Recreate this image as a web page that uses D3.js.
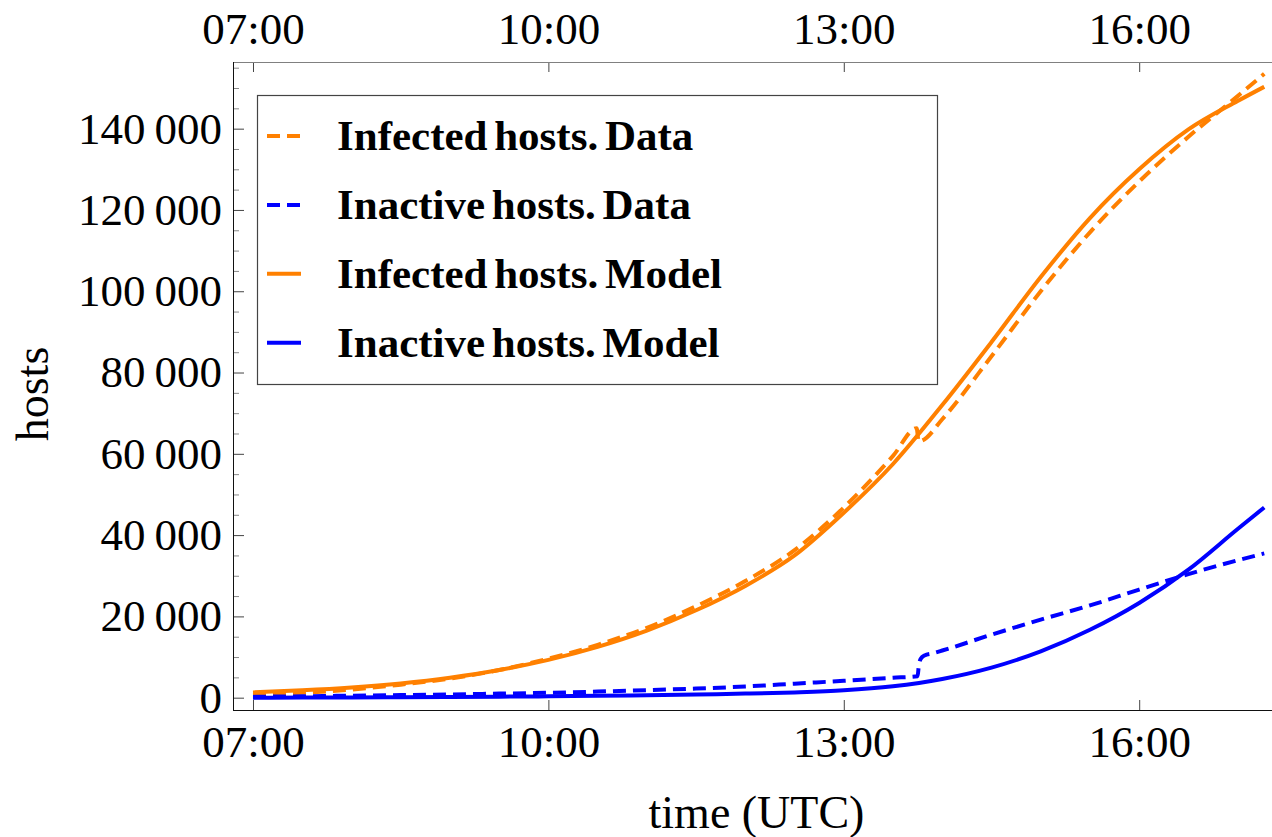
<!DOCTYPE html>
<html>
<head>
<meta charset="utf-8">
<script src="https://cdn.jsdelivr.net/npm/d3@7"></script>
<style>
  body { margin: 0; background: #fff; }
  svg text { font-family: "Liberation Serif", "Times New Roman", serif; fill: #000; }
</style>
</head>
<body>
<div class="chart"></div>
<script>
// hours (UTC) for the model curves
const modelHours = [7, 7.5, 8, 8.5, 9, 9.5, 10, 10.5, 11, 11.5, 12, 12.5, 13, 13.5,
                    14, 14.5, 15, 15.5, 16, 16.5, 17, 17.27];
const infectedModel = [1300, 1800, 2500, 3500, 4900, 6800, 9300, 12500, 16500, 21500, 27500,
                       35000, 45500, 57500, 72000, 87500, 103500, 118000, 130000, 139800, 146800, 150300];
const inactiveModel = [0, 30, 60, 110, 170, 250, 340, 460, 600, 780, 1000,
                       1300, 1800, 2800, 4600, 7400, 11400, 16700, 23300, 31500, 41500, 46800];

// data series have a step near 13:45, so they carry their own hours
const infectedDataHours = [7, 7.5, 8, 8.5, 9, 9.5, 10, 10.5, 11, 11.5, 12, 12.5, 13, 13.5,
                           13.74, 13.76, 13.8, 14, 14.5, 15, 15.5, 16, 16.5, 17, 17.27];
const infectedData = [700, 1200, 2000, 3200, 4700, 6800, 9600, 13000, 17200, 22500, 28700,
                      36300, 46800, 59500, 66300, 63000, 63300, 68500, 84000, 100000, 114500,
                      127000, 138000, 148000, 153500];
const inactiveDataHours = [7, 7.5, 8, 8.5, 9, 9.5, 10, 10.5, 11, 11.5, 12, 12.5, 13, 13.5,
                           13.75, 13.76, 13.78, 13.82, 13.9, 14, 14.5, 15, 15.5, 16, 16.5, 17, 17.27];
const inactiveData = [200, 350, 500, 650, 800, 1000, 1200, 1500, 1850, 2250, 2750, 3450, 4150, 4900,
                      5300, 7500, 9500, 10400, 10900, 11600, 15500, 19200, 22700, 26600, 30400, 33800, 35500];

const hourTicks = [7, 10, 13, 16];
const hostTicks = [0, 20000, 40000, 60000, 80000, 100000, 120000, 140000];

const legendLabels = ["Infected hosts. Data", "Inactive hosts. Data",
                      "Infected hosts. Model", "Inactive hosts. Model"];

const orange = "#ff8000", blue = "#0000ff";

const width = 1272, height = 837;
const frame = { left: 233, right: 1280, top: 62, bottom: 710 };

const svg = d3.select("div.chart")
    .append("svg")
    .attr("width", width)
    .attr("height", height);

const x = d3.scaleLinear().domain([6.797, 17.43]).range([frame.left, frame.right]);
const y = d3.scaleLinear().domain([-3030, 156400]).range([frame.bottom, frame.top]);

const hourFmt = h => d3.format("02")(h) + ":00";
const hostFmt = v => d3.format(",")(v).replace(",", "\u2009");

// axes, ticks pointing into the frame
const styleAxis = (g) => {
    g.select(".domain").remove();
    g.selectAll(".tick line").attr("stroke", "#444");
    g.selectAll(".tick text").attr("font-size", 45).attr("font-family", "Liberation Serif, serif");
};

svg.append("g")
    .attr("transform", `translate(0, ${frame.bottom})`)
    .call(d3.axisBottom(x).tickValues(hourTicks).tickFormat(hourFmt).tickSize(-10).tickPadding(15))
    .call(styleAxis)
    .selectAll(".tick text").attr("dy", "0.71em");

svg.append("g")
    .attr("transform", `translate(0, ${frame.top})`)
    .call(d3.axisTop(x).tickValues(hourTicks).tickFormat(hourFmt).tickSize(-10).tickPadding(18))
    .call(styleAxis);

// minor y ticks
svg.append("g")
    .attr("transform", `translate(${frame.left}, 0)`)
    .call(d3.axisLeft(y).tickValues(d3.range(0, 156000, 5000).filter(v => v % 20000 !== 0))
        .tickFormat("").tickSize(-6))
    .call(g => g.select(".domain").remove())
    .selectAll(".tick line").attr("stroke", "#888");

svg.append("g")
    .attr("transform", `translate(${frame.left}, 0)`)
    .call(d3.axisLeft(y).tickValues(hostTicks).tickFormat(hostFmt).tickSize(-11).tickPadding(11))
    .call(styleAxis);

// frame
svg.append("line").attr("x1", frame.left).attr("x2", frame.right)
    .attr("y1", frame.top + 0.5).attr("y2", frame.top + 0.5).attr("stroke", "#808080");
svg.append("line").attr("x1", frame.left).attr("x2", frame.right)
    .attr("y1", frame.bottom + 0.5).attr("y2", frame.bottom + 0.5).attr("stroke", "#111");
svg.append("line").attr("x1", frame.left + 0.5).attr("x2", frame.left + 0.5)
    .attr("y1", frame.top).attr("y2", frame.bottom + 1).attr("stroke", "#111");

// axis titles
svg.append("text")
    .attr("x", (frame.left + frame.right) / 2)
    .attr("y", 828)
    .attr("text-anchor", "middle")
    .attr("font-size", 46)
    .text("time (UTC)");

svg.append("text")
    .attr("transform", `translate(48, 394) rotate(-90)`)
    .attr("text-anchor", "middle")
    .attr("font-size", 46)
    .text("hosts");

// curves
const line = d3.line()
    .x(d => x(d[0]))
    .y(d => y(d[1]))
    .curve(d3.curveMonotoneX);

const series = [
    { hours: infectedDataHours, values: infectedData, color: orange, dash: "13,7" },
    { hours: inactiveDataHours, values: inactiveData, color: blue, dash: "13,7" },
    { hours: modelHours, values: infectedModel, color: orange, dash: null },
    { hours: modelHours, values: inactiveModel, color: blue, dash: null }
];

const plot = svg.append("g");
plot.append("clipPath").attr("id", "clip")
    .append("rect")
    .attr("x", frame.left).attr("y", frame.top)
    .attr("width", frame.right - frame.left).attr("height", frame.bottom - frame.top);

plot.selectAll("path.curve")
    .data(series)
    .enter()
    .append("path")
    .attr("class", "curve")
    .attr("clip-path", "url(#clip)")
    .attr("fill", "none")
    .attr("stroke", d => d.color)
    .attr("stroke-width", 4)
    .attr("stroke-dasharray", d => d.dash)
    .attr("d", d => line(d.hours.map((h, i) => [h, d.values[i]])));

// legend
const legend = svg.append("g").attr("transform", "translate(257, 95)");
legend.append("rect")
    .attr("x", 0.5).attr("y", 0.5)
    .attr("width", 680).attr("height", 289)
    .attr("fill", "#fff")
    .attr("stroke", "#444")
    .attr("stroke-width", 1.2);

const rows = legend.selectAll("g.row")
    .data(series)
    .enter()
    .append("g")
    .attr("class", "row")
    .attr("transform", (d, i) => `translate(0, ${55 + i * 68.9})`);

rows.append("line")
    .attr("x1", 10).attr("x2", 44)
    .attr("y1", -14).attr("y2", -14)
    .attr("stroke", d => d.color)
    .attr("stroke-width", 4)
    .attr("stroke-dasharray", d => d.dash);

rows.append("text")
    .attr("x", 80)
    .attr("font-size", 43)
    .attr("font-weight", "bold")
    .attr("word-spacing", -4)
    .text((d, i) => legendLabels[i]);
</script>
</body>
</html>
